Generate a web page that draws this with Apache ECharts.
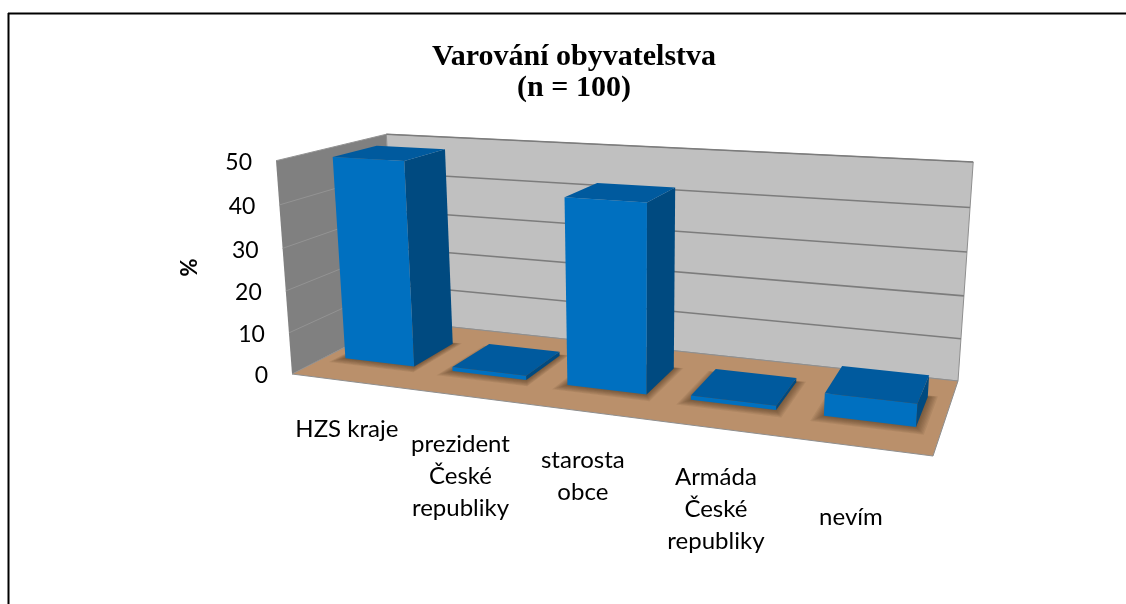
<!DOCTYPE html>
<html>
<head>
<meta charset="utf-8">
<title>Varování obyvatelstva</title>
<script src="https://cdn.jsdelivr.net/npm/echarts@6/dist/echarts.min.js"></script>
<style>
  html, body { margin: 0; padding: 0; background: #fff; }
  #chart { width: 1126px; height: 604px; }
</style>
</head>
<body>
<div id="chart"></div>
<script>
// data
const categories = ['HZS kraje', 'prezident\nČeské\nrepubliky', 'starosta\nobce', 'Armáda\nČeské\nrepubliky', 'nevím'];
const percents = [49, 1, 43, 1, 5];
const yTicks = [0, 10, 20, 30, 40, 50];

// label nudges, the chart has them placed a bit unevenly
const labelDx = [1, 1, 1, 2, -6];
const labelDy = [-1, 0, 0, 0, 22];

const FONT = 'Lato, "Open Sans", sans-serif';
const BLUE_FRONT = '#0070c0';
const BLUE_TOP = '#005a9e';
const BLUE_SIDE = '#004a80';

// bar footprint inside the floor (depth 0 = front, 1 = back wall)
const BAR_RATIO = 0.65;
const BAR_D0 = 0.31;
const BAR_D1 = 0.72;

// perspective of the box: floor corners and the wall height at the front left corner
const FL = [292, 374], FR = [933, 456], BR = [958, 381], BL = [396, 321];
const TOP_FL = [276, 161];
const VANISH = [638, 4986]; // where the vertical edges meet

const sx = FL[0] - FR[0] + BR[0] - BL[0], sy = FL[1] - FR[1] + BR[1] - BL[1];
const dx1 = FR[0] - BR[0], dx2 = BL[0] - BR[0], dy1 = FR[1] - BR[1], dy2 = BL[1] - BR[1];
const den = dx1 * dy2 - dx2 * dy1;
const g = (sx * dy2 - dx2 * sy) / den;
const h = (dx1 * sy - sx * dy1) / den;
const zs = (TOP_FL[0] - FL[0]) / (VANISH[0] - TOP_FL[0]);

// u = across the categories, d = depth, v = height, all 0..1
function project(u, d, v) {
  const x = FL[0] + (FR[0] - FL[0] + g * FR[0]) * u + (BL[0] - FL[0] + h * BL[0]) * d + zs * VANISH[0] * v;
  const y = FL[1] + (FR[1] - FL[1] + g * FR[1]) * u + (BL[1] - FL[1] + h * BL[1]) * d + zs * VANISH[1] * v;
  const w = 1 + g * u + h * d + zs * v;
  return [x / w, y / w];
}

// pixel from the axes -> normalised position inside the grid
const toU = (px, cs) => (px - cs.x) / cs.width;
const toV = (py, cs) => (cs.y + cs.height - py) / cs.height;

function poly(points, fill, extra) {
  return { type: 'polygon', shape: { points }, style: Object.assign({ fill }, extra || {}) };
}

function line(a, b, stroke, lineWidth) {
  return { type: 'line', shape: { x1: a[0], y1: a[1], x2: b[0], y2: b[1] }, style: { stroke, lineWidth } };
}

function renderWalls(params, api) {
  const cs = params.coordSys;
  const edge = { stroke: '#8f8f8f', lineWidth: 1 };
  const children = [
    poly([project(0, 0, 0), project(0, 1, 0), project(0, 1, 1), project(0, 0, 1)], '#808080'),
    poly([project(0, 1, 0), project(1, 1, 0), project(1, 1, 1), project(0, 1, 1)], '#c0c0c0', edge),
    poly([project(0, 0, 0), project(1, 0, 0), project(1, 1, 0), project(0, 1, 0)], '#ba906b', edge)
  ];
  yTicks.forEach((t) => {
    if (t === 0) return;
    const v = toV(api.coord([0, t])[1], cs);
    children.push(line(project(0, 0, v), project(0, 1, v), '#939393', 1));
    children.push(line(project(0, 1, v), project(1, 1, v), '#7c7c7c', 1.6));
  });
  return { type: 'group', children };
}

function barBox(params, api) {
  const cs = params.coordSys;
  const top = api.coord([api.value(0), api.value(1)]);
  const band = api.size([1, 0])[0];
  return {
    u0: toU(top[0] - band * BAR_RATIO / 2, cs),
    u1: toU(top[0] + band * BAR_RATIO / 2, cs),
    v: toV(top[1], cs)
  };
}

// soft floor shadow, stacked see-through layers falling towards the viewer
function renderShadow(params, api) {
  const b = barBox(params, api);
  const children = [];
  for (let k = 7; k >= 0; k--) {
    const u0 = b.u0 - k * 0.002, u1 = b.u1 + k * 0.002;
    const d0 = BAR_D0 - k * 0.012, d1 = BAR_D1 + k * 0.003;
    children.push(poly(
      [project(u0, d0, 0), project(u1, d0, 0), project(u1, d1, 0), project(u0, d1, 0)],
      'rgba(70,40,20,0.09)'
    ));
  }
  return { type: 'group', children };
}

function renderBar(params, api) {
  const b = barBox(params, api);
  const p = project;
  return {
    type: 'group',
    children: [
      poly([p(b.u0, BAR_D0, 0), p(b.u1, BAR_D0, 0), p(b.u1, BAR_D0, b.v), p(b.u0, BAR_D0, b.v)], BLUE_FRONT),
      poly([p(b.u1, BAR_D0, 0), p(b.u1, BAR_D1, 0), p(b.u1, BAR_D1, b.v), p(b.u1, BAR_D0, b.v)], BLUE_SIDE),
      poly([p(b.u0, BAR_D0, b.v), p(b.u1, BAR_D0, b.v), p(b.u1, BAR_D1, b.v), p(b.u0, BAR_D1, b.v)], BLUE_TOP)
    ]
  };
}

// y tick labels follow the slanted front edge of the left wall
function renderTick(params, api) {
  const cs = params.coordSys;
  const v = toV(api.coord([0, api.value(1)])[1], cs);
  const pos = project(0, 0, v);
  return {
    type: 'text',
    style: {
      text: String(api.value(1)), x: pos[0] - 24, y: pos[1] + 2,
      align: 'right', verticalAlign: 'middle',
      fontFamily: FONT, fontSize: 23, fill: '#000'
    }
  };
}

function renderCategory(params, api) {
  const cs = params.coordSys;
  const i = params.dataIndex;
  const pos = project(toU(api.coord([i, 0])[0], cs), 0, 0);
  return {
    type: 'text',
    style: {
      text: categories[i], x: pos[0] + labelDx[i], y: pos[1] + 33 + labelDy[i],
      align: 'center', verticalAlign: 'top', lineHeight: 32,
      fontFamily: FONT, fontSize: 24, fill: '#000'
    }
  };
}

const rows = percents.map((p, i) => [i, p]);

const chart = echarts.init(document.getElementById('chart'));
chart.setOption({
  animation: false,
  backgroundColor: '#fff',
  title: {
    text: 'Varování obyvatelstva\n(n = 100)',
    left: 569, top: 37,
    textAlign: 'center',
    textStyle: {
      fontFamily: '"Liberation Serif", serif', fontWeight: 'bold',
      fontSize: 30, lineHeight: 31, color: '#000'
    }
  },
  grid: { left: FL[0], top: TOP_FL[1], width: FR[0] - FL[0], height: FL[1] - TOP_FL[1] },
  xAxis: { type: 'category', data: categories, show: false },
  yAxis: {
    type: 'value', min: 0, max: 50, interval: 10,
    name: '%', nameLocation: 'middle', nameGap: 91, nameRotate: 90,
    nameTextStyle: { fontFamily: FONT, fontWeight: 'bold', fontSize: 22, color: '#000' },
    axisLine: { show: false }, axisTick: { show: false },
    axisLabel: { show: false }, splitLine: { show: false }
  },
  series: [
    { type: 'custom', name: 'walls', silent: true, data: [[0, 0]], renderItem: renderWalls },
    { type: 'custom', name: 'shadow', silent: true, data: rows, renderItem: renderShadow },
    { type: 'custom', name: '%', data: rows, renderItem: renderBar },
    { type: 'custom', name: 'ticks', silent: true, data: yTicks.map((t) => [0, t]), renderItem: renderTick },
    { type: 'custom', name: 'labels', silent: true, data: rows, renderItem: renderCategory }
  ],
  graphic: [
    // the frame only shows on the top and left sides
    { type: 'line', shape: { x1: 8, y1: 13.5, x2: 1126, y2: 13.5 }, style: { stroke: '#000', lineWidth: 2 } },
    { type: 'line', shape: { x1: 8.5, y1: 13, x2: 8.5, y2: 604 }, style: { stroke: '#000', lineWidth: 2 } }
  ]
});
</script>
</body>
</html>
